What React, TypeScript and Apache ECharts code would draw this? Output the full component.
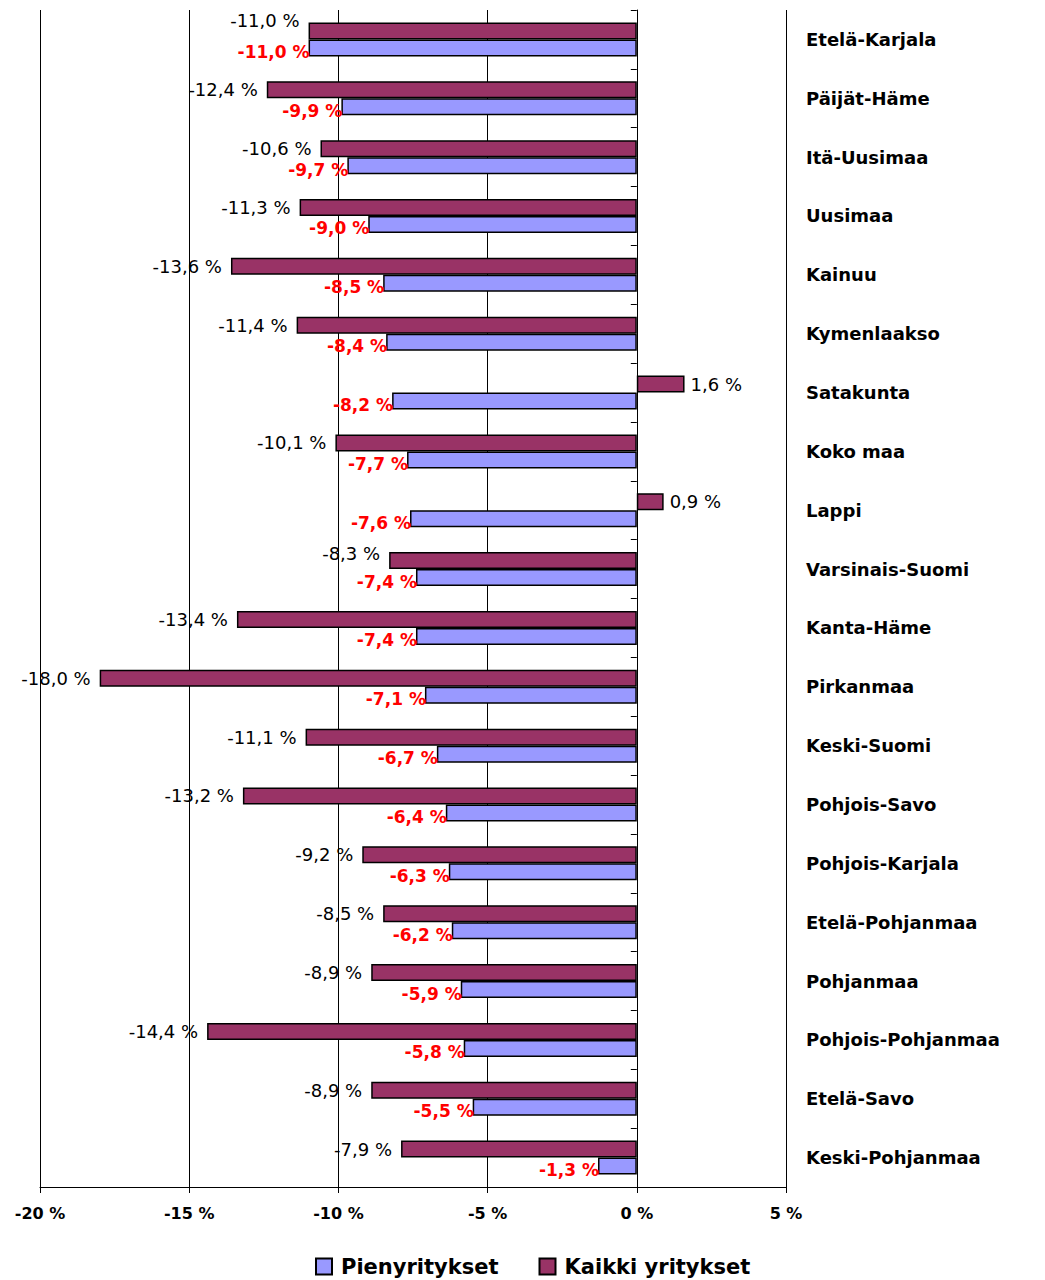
import React, { useEffect, useRef } from "react";
import * as echarts from "echarts";

const categories = [
  "Etelä-Karjala",
  "Päijät-Häme",
  "Itä-Uusimaa",
  "Uusimaa",
  "Kainuu",
  "Kymenlaakso",
  "Satakunta",
  "Koko maa",
  "Lappi",
  "Varsinais-Suomi",
  "Kanta-Häme",
  "Pirkanmaa",
  "Keski-Suomi",
  "Pohjois-Savo",
  "Pohjois-Karjala",
  "Etelä-Pohjanmaa",
  "Pohjanmaa",
  "Pohjois-Pohjanmaa",
  "Etelä-Savo",
  "Keski-Pohjanmaa",
];

const pienyritykset = [
  -11.0, -9.9, -9.7, -9.0, -8.5, -8.4, -8.2, -7.7, -7.6, -7.4, -7.4, -7.1, -6.7,
  -6.4, -6.3, -6.2, -5.9, -5.8, -5.5, -1.3,
];

const kaikkiYritykset = [
  -11.0, -12.4, -10.6, -11.3, -13.6, -11.4, 1.6, -10.1, 0.9, -8.3, -13.4, -18.0,
  -11.1, -13.2, -9.2, -8.5, -8.9, -14.4, -8.9, -7.9,
];

const xTicks = [-20, -15, -10, -5, 0, 5];

const seriesNames = ["Pienyritykset", "Kaikki yritykset"];

const FONT = "DejaVu Sans";

const fmt = (v: number) => v.toFixed(1).replace(".", ",") + " %";

export default function App() {
  const ref = useRef<HTMLDivElement>(null);

  useEffect(() => {
    if (!ref.current) return;
    const chart = echarts.init(ref.current, null, { renderer: "svg" });

    const gridLeft = 40;
    const gridRight = 259;
    const plotWidth = 1045 - gridLeft - gridRight;
    const xMin = xTicks[0];
    const xMax = xTicks[xTicks.length - 1];
    const zeroOffset = ((0 - xMin) / (xMax - xMin)) * plotWidth;

    // Excel nudged a couple of labels upward to avoid overlaps
    const raisedLabels: Record<number, number> = { 0: -10, 9: -7 };

    const kaikkiData = kaikkiYritykset.map((v, i) => ({
      value: v,
      label: {
        position: v < 0 ? "left" : "right",
        distance: v < 0 ? 9 : 6,
        offset: [0, raisedLabels[i] ?? 0],
      },
    }));

    chart.setOption({
      animation: false,
      backgroundColor: "#ffffff",
      grid: { left: gridLeft, right: gridRight, top: 10, bottom: 93, containLabel: false },
      legend: {
        data: seriesNames,
        bottom: -2,
        left: 310,
        itemWidth: 16,
        itemHeight: 16,
        itemGap: 40,
        icon: "rect",
        textStyle: {
          fontFamily: FONT,
          fontWeight: "bold",
          fontSize: 21,
          color: "#000",
          padding: [0, 0, 0, 4],
        },
      },
      xAxis: {
        type: "value",
        min: xMin,
        max: xMax,
        interval: 5,
        axisLine: { show: true, onZero: false, lineStyle: { color: "#000", width: 1 } },
        axisTick: { show: true, length: 6, lineStyle: { color: "#000" } },
        axisLabel: {
          formatter: (v: number) => `${v} %`,
          fontFamily: FONT,
          fontWeight: "bold",
          fontSize: 16,
          color: "#000",
          margin: 18,
        },
        splitLine: { show: true, lineStyle: { color: "#000", width: 1 } },
      },
      yAxis: [
        {
          type: "category",
          data: categories,
          inverse: true,
          position: "right",
          axisLine: { show: false },
          axisTick: { show: false },
          axisLabel: {
            fontFamily: FONT,
            fontWeight: "bold",
            fontSize: 18,
            color: "#000",
            margin: 20,
            align: "left",
          },
          splitLine: { show: false },
        },
        {
          type: "category",
          data: categories,
          inverse: true,
          position: "left",
          offset: -zeroOffset,
          axisLine: { show: true, onZero: false, lineStyle: { color: "#000", width: 1 } },
          axisTick: { show: true, length: 6, lineStyle: { color: "#000" } },
          axisLabel: { show: false },
          splitLine: { show: false },
        },
      ],
      series: [
        {
          name: "Kaikki yritykset",
          type: "bar",
          yAxisIndex: 0,
          data: kaikkiData,
          barWidth: 17,
          barGap: "0%",
          itemStyle: { color: "#993366", borderColor: "#000", borderWidth: 1.5 },
          label: {
            show: true,
            formatter: (p: any) => fmt(p.value),
            fontFamily: FONT,
            fontSize: 18,
            color: "#000",
          },
        },
        {
          name: "Pienyritykset",
          type: "bar",
          yAxisIndex: 0,
          data: pienyritykset,
          barWidth: 17,
          barGap: "0%",
          itemStyle: { color: "#9999FF", borderColor: "#000", borderWidth: 1.5 },
          label: {
            show: true,
            position: "left",
            distance: -1,
            offset: [0, 4],
            formatter: (p: any) => fmt(p.value),
            fontFamily: FONT,
            fontWeight: "bold",
            fontSize: 17,
            color: "#FF0000",
          },
        },
      ],
    });

    return () => chart.dispose();
  }, []);

  return (
    <div
      ref={ref}
      style={{ position: "absolute", left: 0, top: 0, width: 1045, height: 1280 }}
    />
  );
}
